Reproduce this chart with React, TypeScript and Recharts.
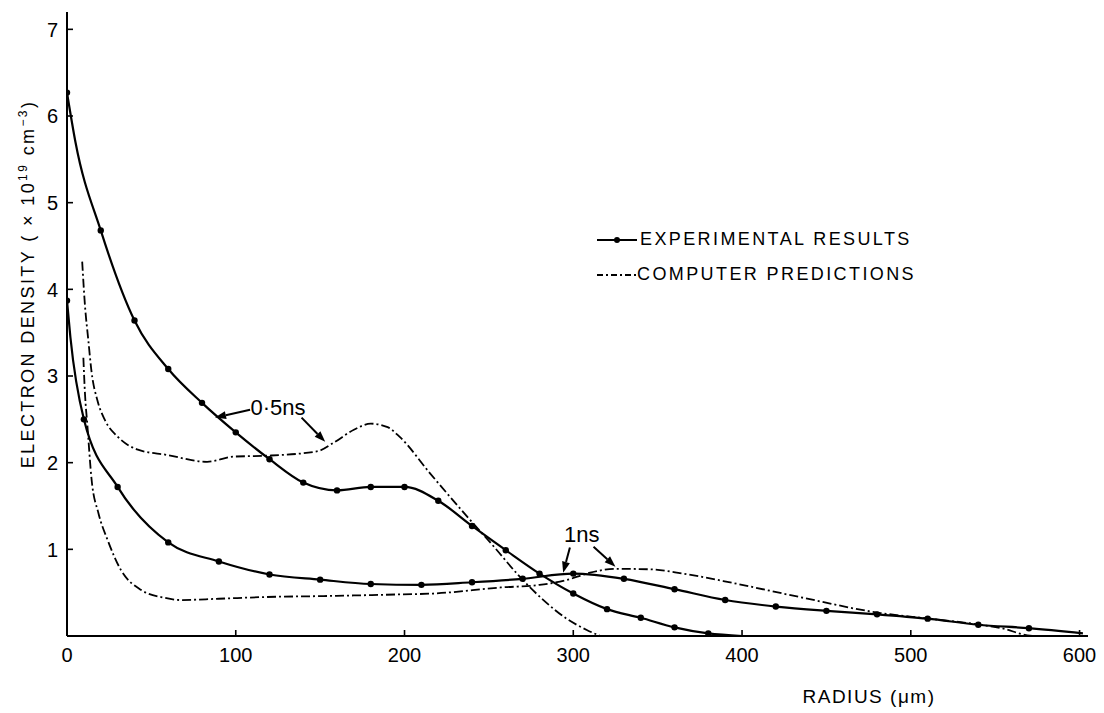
import React from 'react';
import { LineChart, Line, XAxis, YAxis, ReferenceLine, ReferenceDot, Legend } from 'recharts';

// Experimental results, 0.5 ns (radius in µm, density in 1e19 cm^-3)
const exp05R = [0, 5, 20, 40, 60, 80, 100, 120, 140, 160, 180, 200, 220, 240, 260, 280, 300, 320, 340, 360, 380, 400];
const exp05V = [6.27, 5.7, 4.68, 3.64, 3.08, 2.69, 2.35, 2.04, 1.77, 1.68, 1.72, 1.72, 1.56, 1.27, 0.99, 0.72, 0.49, 0.31, 0.21, 0.1, 0.03, 0];
const exp05Hidden = [1, 21];

// Experimental results, 1 ns
const exp1R = [0, 2, 10, 30, 60, 90, 120, 150, 180, 210, 240, 270, 300, 330, 360, 390, 420, 450, 480, 510, 540, 570, 602];
const exp1V = [3.87, 3.45, 2.5, 1.72, 1.08, 0.86, 0.71, 0.65, 0.6, 0.59, 0.62, 0.66, 0.72, 0.66, 0.54, 0.415, 0.34, 0.29, 0.25, 0.2, 0.13, 0.09, 0.03];
const exp1Hidden = [1, 22];

// Computer predictions, 0.5 ns
const comp05R = [9, 10.7, 12.6, 14.6, 18, 22.5, 30, 42, 59, 83, 99, 118, 148, 158, 170, 180, 190, 197, 215, 237, 253, 268, 282, 296, 308, 316];
const comp05V = [4.32, 3.8, 3.42, 3.04, 2.72, 2.49, 2.3, 2.15, 2.09, 2.01, 2.07, 2.08, 2.13, 2.23, 2.38, 2.45, 2.41, 2.3, 1.88, 1.38, 1.03, 0.69, 0.42, 0.2, 0.07, 0];

// Computer predictions, 1 ns
const comp1R = [9.7, 10.7, 12, 14.6, 18.6, 24, 32, 44, 58, 67, 90, 118, 150, 197, 217, 257, 280, 295, 310, 325, 345, 365, 395, 434, 482, 511, 541, 556, 566, 572];
const comp1V = [3.21, 2.78, 2.45, 1.8, 1.42, 1.11, 0.76, 0.53, 0.44, 0.415, 0.43, 0.45, 0.46, 0.48, 0.49, 0.56, 0.59, 0.64, 0.73, 0.775, 0.77, 0.72, 0.61, 0.45, 0.265, 0.2, 0.13, 0.08, 0.02, 0];

// short dash-dot stub on the axis above the first point
const compStubR = [0, 0];
const compStubV = [6.65, 6.3];

const xTicks = [0, 100, 200, 300, 400, 500, 600];
const yTicks = [1, 2, 3, 4, 5, 6, 7];

const legendLabels = ['EXPERIMENTAL RESULTS', 'COMPUTER PREDICTIONS'];

const noteLabels = ['0·5ns', '1ns'];
const noteR = [125, 305];
const noteV = [2.64, 1.17];

const arrowFromR = [108.5, 139, 298, 312];
const arrowFromV = [2.61, 2.52, 1.02, 1.03];
const arrowToR = [87.7, 153, 294, 325];
const arrowToV = [2.52, 2.24, 0.73, 0.8];

const zip = (rs: number[], vs: number[]) => rs.map((r, i) => ({ r, v: vs[i] }));

const FONT = '"Liberation Sans", Arial, sans-serif';
const DASH = '9 3 2 3';
const X_MARGIN = 12;
const Y_MARGIN = 9;

const makeDot = (hidden: number[]) => (props: any) => {
  const { cx, cy, index } = props;
  if (hidden.includes(index) || cx == null || cy == null) return <g key={`d${index}`} />;
  return <circle key={`d${index}`} cx={cx} cy={cy} r={3.2} fill="#000" stroke="none" />;
};

const Arrow = (props: any) => {
  const { x1, y1, x2, y2 } = props;
  const dx = x2 - x1;
  const dy = y2 - y1;
  const len = Math.hypot(dx, dy) || 1;
  const ux = dx / len;
  const uy = dy / len;
  const hl = 11;
  const hw = 4;
  const bx = x2 - ux * hl;
  const by = y2 - uy * hl;
  const pts = `${x2},${y2} ${bx - uy * hw},${by + ux * hw} ${bx + uy * hw},${by - ux * hw}`;
  return (
    <g>
      <line x1={x1} y1={y1} x2={bx} y2={by} stroke="#000" strokeWidth={2} />
      <polygon points={pts} fill="#000" />
    </g>
  );
};

const makeNote = (text: string) => (p: any) => (
  <text x={p.cx} y={p.cy} textAnchor="middle" dominantBaseline="central" fontSize={22} fontFamily={FONT} fill="#000">
    {text}
  </text>
);

const XTick = (props: any) => {
  const { x, y, payload } = props;
  const axisY = y - X_MARGIN;
  return (
    <g>
      {payload.value !== 0 && <line x1={x} y1={axisY} x2={x} y2={axisY - 6} stroke="#000" strokeWidth={1.6} />}
      <text x={x} y={y} dy="0.72em" textAnchor="middle" fontSize={20} fontFamily={FONT} fill="#000">
        {payload.value}
      </text>
    </g>
  );
};

const YTick = (props: any) => {
  const { x, y, payload } = props;
  const axisX = x + Y_MARGIN;
  return (
    <g>
      <line x1={axisX} y1={y} x2={axisX + 6} y2={y} stroke="#000" strokeWidth={1.6} />
      <text x={x} y={y} dy="0.36em" textAnchor="end" fontSize={20} fontFamily={FONT} fill="#000">
        {payload.value}
      </text>
    </g>
  );
};

const YTitle = () => (
  <text
    transform="translate(26,276) rotate(-90)"
    textAnchor="middle"
    fontSize={18}
    fontFamily={FONT}
    letterSpacing={2.4}
    fill="#000"
  >
    ELECTRON DENSITY ( × 10
    <tspan dy={-7} fontSize={12}>19</tspan>
    <tspan dy={7}> cm</tspan>
    <tspan dy={-7} fontSize={12}>−3</tspan>
    <tspan dy={7}>)</tspan>
  </text>
);

const XTitle = () => (
  <text x={861} y={695} textAnchor="middle" fontSize={19} fontFamily={FONT} letterSpacing={1.5} fill="#000">
    RADIUS (μm)
  </text>
);

const LegendBox = () => (
  <div style={{ fontFamily: FONT, fontSize: 18, letterSpacing: 2.4, color: '#000', whiteSpace: 'nowrap' }}>
    <div style={{ display: 'flex', alignItems: 'center', height: 35 }}>
      <svg width={42} height={12} style={{ marginRight: 1 }}>
        <line x1={0} y1={6} x2={40} y2={6} stroke="#000" strokeWidth={2} />
        <circle cx={20} cy={6} r={3} fill="#000" />
      </svg>
      <span>{legendLabels[0]}</span>
    </div>
    <div style={{ display: 'flex', alignItems: 'center', height: 35 }}>
      <svg width={40} height={12} style={{ marginRight: 0 }}>
        <line x1={0} y1={6} x2={40} y2={6} stroke="#000" strokeWidth={1.8} strokeDasharray="6 3 2 3" />
      </svg>
      <span>{legendLabels[1]}</span>
    </div>
  </div>
);

export default function App() {
  return (
    <LineChart width={1090} height={705} margin={{ top: 4, right: 10, bottom: 47, left: 29 }}>
      <XAxis
        dataKey="r"
        type="number"
        domain={[0, 605]}
        ticks={xTicks}
        allowDataOverflow
        height={30}
        tickSize={0}
        tickMargin={X_MARGIN}
        tick={<XTick />}
        axisLine={{ stroke: '#000', strokeWidth: 2 }}
        tickLine={false}
        label={<XTitle />}
      />
      <YAxis
        dataKey="v"
        type="number"
        domain={[0, 7.2]}
        ticks={yTicks}
        allowDataOverflow
        width={30}
        tickSize={0}
        tickMargin={Y_MARGIN}
        tick={<YTick />}
        axisLine={{ stroke: '#000', strokeWidth: 2 }}
        tickLine={false}
        label={<YTitle />}
      />
      <Legend
        layout="horizontal"
        verticalAlign="middle"
        align="center"
        content={<LegendBox />}
        wrapperStyle={{ position: 'absolute', left: 589, top: 214, width: 'auto', height: 'auto' }}
      />
      <Line
        data={zip(comp05R, comp05V)}
        dataKey="v"
        type="monotone"
        stroke="#000"
        strokeWidth={1.8}
        strokeDasharray={DASH}
        dot={false}
        isAnimationActive={false}
        legendType="none"
      />
      <Line
        data={zip(comp1R, comp1V)}
        dataKey="v"
        type="monotone"
        stroke="#000"
        strokeWidth={1.8}
        strokeDasharray={DASH}
        dot={false}
        isAnimationActive={false}
        legendType="none"
      />
      <Line
        data={zip(compStubR, compStubV)}
        dataKey="v"
        type="linear"
        stroke="#000"
        strokeWidth={1.8}
        strokeDasharray="7 3 2 3"
        dot={false}
        isAnimationActive={false}
        legendType="none"
      />
      <Line
        data={zip(exp05R, exp05V)}
        dataKey="v"
        type="monotone"
        stroke="#000"
        strokeWidth={2.2}
        dot={makeDot(exp05Hidden)}
        isAnimationActive={false}
        legendType="none"
      />
      <Line
        data={zip(exp1R, exp1V)}
        dataKey="v"
        type="monotone"
        stroke="#000"
        strokeWidth={2.2}
        dot={makeDot(exp1Hidden)}
        isAnimationActive={false}
        legendType="none"
      />
      {arrowFromR.map((r, i) => (
        <ReferenceLine
          key={`a${i}`}
          segment={[
            { x: r, y: arrowFromV[i] },
            { x: arrowToR[i], y: arrowToV[i] },
          ]}
          shape={Arrow}
          ifOverflow="visible"
        />
      ))}
      {noteLabels.map((t, i) => (
        <ReferenceDot key={`n${i}`} x={noteR[i]} y={noteV[i]} r={0} shape={makeNote(t)} ifOverflow="visible" />
      ))}
    </LineChart>
  );
}
